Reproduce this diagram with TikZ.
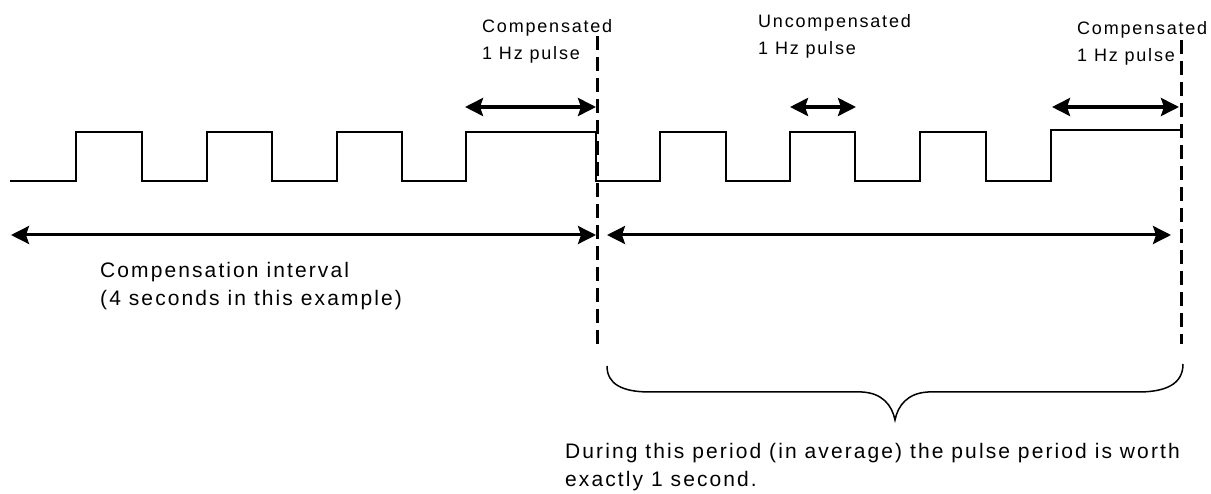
\documentclass[tikz,border=0pt]{standalone}
\usepackage{fontspec}
\setmainfont{Liberation Sans}
\newfontfamily\lblfont[LetterSpace=10]{Liberation Sans}
\usetikzlibrary{arrows.meta}
\begin{document}
\begin{tikzpicture}[x=1pt,y=-1pt,
  wave/.style={line width=2pt, line join=miter},
  guide/.style={line width=3pt, dash pattern=on 14pt off 7pt},
  dimup/.style={line width=3.5pt, {Stealth[length=18pt,width=18pt,inset=3pt]}-{Stealth[length=18pt,width=18pt,inset=3pt]}},
  dimlow/.style={line width=3pt, {Stealth[length=18pt,width=18pt,inset=3pt]}-{Stealth[length=18pt,width=18pt,inset=3pt]}},
  bracestyle/.style={line width=1.5pt},
  smalllbl/.style={anchor=base west, inner sep=0pt, align=left, font=\lblfont\fontsize{18}{27}\selectfont},
  biglbl/.style={anchor=base west, inner sep=0pt, align=left, font=\lblfont\fontsize{21}{28}\selectfont}
]
\useasboundingbox (0,0) rectangle (1211,494);

% labels (anchored at the baseline of their last line)
\node[smalllbl] (lc) at (482,60) {Compensated\\1 Hz pulse};
\node[smalllbl] (lu) at (758,55) {Uncompensated\\1 Hz pulse};
\node[smalllbl] (rc) at (1077,62) {Compensated\\1 Hz pulse};
\node[biglbl] (ci) at (100,306) {Compensation interval\\(4 seconds in this example)};
\node[biglbl] (dp) at (565,486) {During this period (in average) the pulse period is worth\\exactly 1 second.};

% waveform
\draw[wave] (10,181) -- (76,181) -- (76,132) -- (142,132) -- (142,181) -- (207,181) -- (207,132) -- (272,132) -- (272,181) -- (337,181) -- (337,132) -- (402,132) -- (402,181) -- (466,181) -- (466,132) -- (596,132) -- (596,181) -- (660,181) -- (660,132) -- (726,132) -- (726,181) -- (790,181) -- (790,132) -- (855,132) -- (855,181) -- (920,181) -- (920,132) -- (986,132) -- (986,181) -- (1051,181) -- (1051,130) -- (1180,130);

% dashed guides
\coordinate (d1t) at (597,36);
\coordinate (d1b) at (597,344);
\coordinate (d2t) at (1181,40);
\coordinate (d2b) at (1181,344);
\draw[guide] (d1t) -- (d1b);
\draw[guide] (d2t) -- (d2b);

% pulse arrows
\coordinate (a1l) at (465,107);
\coordinate (a1r) at (596,107);
\coordinate (a2l) at (790,107);
\coordinate (a2r) at (856,107);
\coordinate (a3l) at (1052,107);
\coordinate (a3r) at (1179,107);
\draw[dimup] (a1l) -- (a1r);
\draw[dimup] (a2l) -- (a2r);
\draw[dimup] (a3l) -- (a3r);

% interval arrows
\coordinate (b1l) at (11,235);
\coordinate (b1r) at (596,235);
\coordinate (b2l) at (607,235);
\coordinate (b2r) at (1171,235);
\draw[dimlow] (b1l) -- (b1r);
\draw[dimlow] (b2l) -- (b2r);

% brace
\draw[bracestyle] (607,366) .. controls (607,384) and (622,392) .. (650,392) -- (862,392) .. controls (882,393) and (892,405) .. (895,420) .. controls (898,405) and (908,393) .. (928,392) -- (1138,392) .. controls (1166,392) and (1183,384) .. (1183,364);
\end{tikzpicture}
\end{document}
